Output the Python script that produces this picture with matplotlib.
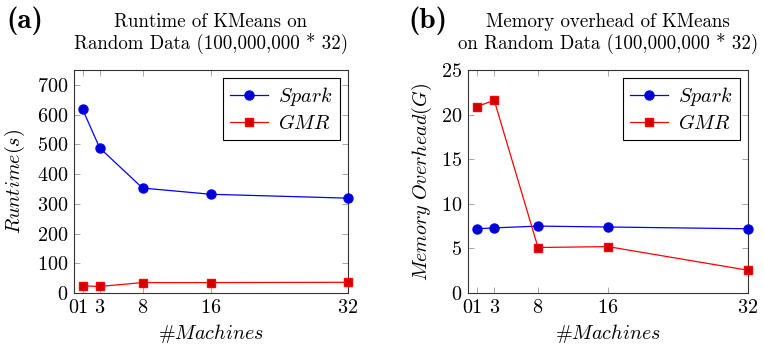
import numpy as np
import matplotlib
matplotlib.use('Agg')
import matplotlib.pyplot as plt

# --- Data ---
machines = [1, 3, 8, 16, 32]
x_ticks = [0, 1, 3, 8, 16, 32]

runtime_spark = [618, 488, 353, 332, 319]
runtime_gmr = [24, 22, 35, 35, 36]

memory_spark = [7.2, 7.3, 7.5, 7.4, 7.2]
memory_gmr = [20.9, 21.6, 5.1, 5.2, 2.55]

# --- Style ---
plt.rcParams['font.family'] = 'cmr10'
plt.rcParams['mathtext.fontset'] = 'cm'
plt.rcParams['axes.formatter.use_mathtext'] = True
plt.rcParams['axes.unicode_minus'] = False

W, H = 764, 349
fig = plt.figure(figsize=(W / 100, H / 100), dpi=100)


def px_axes(left, top, right, bottom):
    return fig.add_axes([left / W, 1 - bottom / H, (right - left) / W, (bottom - top) / H])


def style_axes(ax, ylim, yticks):
    ax.set_xlim(0, 32)
    ax.set_ylim(*ylim)
    ax.set_xticks(x_ticks)
    ax.set_yticks(yticks)
    ax.tick_params(direction='in', length=4, width=0.6, color='#999999',
                   top=True, right=True, labelsize=14.5, pad=4)
    for s in ax.spines.values():
        s.set_linewidth(0.8)
        s.set_color('#333333')
    ax.set_xlabel(r'$\#\mathit{Machines}$', fontsize=14.5, labelpad=4)


def plot_pair(ax, spark, gmr):
    ax.plot(machines, spark, color='blue', lw=0.9, marker='o', ms=6.5,
            mfc='#0000cc', mec='blue', label=r'$\mathit{Spark}$', clip_on=False, zorder=3)
    ax.plot(machines, gmr, color='red', lw=0.9, marker='s', ms=6,
            mfc='#cc0000', mec='red', label=r'$\mathit{GMR}$', clip_on=False, zorder=3)
    leg = ax.legend(loc='upper right', fontsize=14.5, fancybox=False, framealpha=1,
                    edgecolor='black', borderaxespad=0.4, handlelength=1.9,
                    borderpad=0.35, labelspacing=0.3, handletextpad=0.5)
    leg.get_frame().set_linewidth(0.8)


# --- (a) Runtime ---
ax1 = px_axes(74, 70, 348, 293)
plot_pair(ax1, runtime_spark, runtime_gmr)
style_axes(ax1, (0, 750), range(0, 701, 100))
ax1.set_ylabel(r'$\mathit{Runtime}(\mathit{s})$', fontsize=14.5, labelpad=7)
ax1.set_title('Runtime of KMeans on\nRandom Data (100,000,000 * 32)',
              fontsize=13.6, pad=15, linespacing=1.15)
fig.text(6 / W, 1 - 21 / H, '(a)', family='cmb10', fontsize=21, va='center', ha='left')

# --- (b) Memory overhead ---
ax2 = px_axes(468, 70, 748, 293)
plot_pair(ax2, memory_spark, memory_gmr)
style_axes(ax2, (0, 25), range(0, 26, 5))
ax2.set_ylabel(r'$\mathit{Memory\ Overhead}(\mathit{G})$', fontsize=14.5, labelpad=5)
ax2.set_title('Memory overhead of KMeans\non Random Data (100,000,000 * 32)',
              fontsize=13.6, pad=15, linespacing=1.15)
fig.text(408 / W, 1 - 21 / H, '(b)', family='cmb10', fontsize=21, va='center', ha='left')

fig.savefig('out.png', dpi=100)
